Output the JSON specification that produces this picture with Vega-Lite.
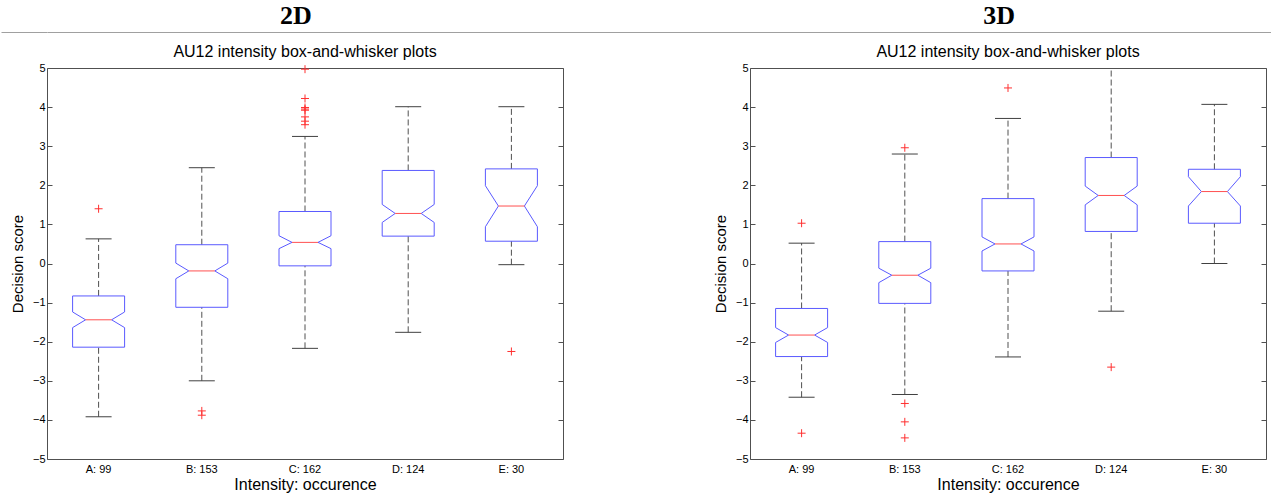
{
  "$schema": "https://vega.github.io/schema/vega-lite/v6.json",
  "padding": 0,
  "spacing": 10,
  "config": {
    "font": "Liberation Sans",
    "view": {"stroke": "#505050", "strokeWidth": 1},
    "axis": {"labelFont": "Liberation Sans", "titleFont": "Liberation Sans", "labelColor": "#000", "titleColor": "#000", "titleFontWeight": "normal", "tickColor": "#505050", "grid": false, "domain": false, "labelFontSize": 11}
  },
  "datasets": {
    "b2": [
      {"cat": "A: 99", "lo": -3.92, "q1": -2.14, "nlo": -1.64, "med": -1.44, "nhi": -1.24, "q3": -0.83, "hi": 0.63},
      {"cat": "B: 153", "lo": -3.0, "q1": -1.12, "nlo": -0.39, "med": -0.19, "nhi": 0.01, "q3": 0.48, "hi": 2.45},
      {"cat": "C: 162", "lo": -2.17, "q1": -0.06, "nlo": 0.38, "med": 0.54, "nhi": 0.71, "q3": 1.33, "hi": 3.25},
      {"cat": "D: 124", "lo": -1.76, "q1": 0.7, "nlo": 1.05, "med": 1.28, "nhi": 1.51, "q3": 2.38, "hi": 4.01},
      {"cat": "E: 30", "lo": -0.03, "q1": 0.57, "nlo": 0.94, "med": 1.47, "nhi": 1.99, "q3": 2.42, "hi": 4.01}
    ],
    "o2": [
      {"cat": "A: 99", "v": 1.4},
      {"cat": "B: 153", "v": -3.77},
      {"cat": "B: 153", "v": -3.88},
      {"cat": "C: 162", "v": 4.97},
      {"cat": "C: 162", "v": 4.22},
      {"cat": "C: 162", "v": 3.99},
      {"cat": "C: 162", "v": 3.95},
      {"cat": "C: 162", "v": 3.92},
      {"cat": "C: 162", "v": 3.75},
      {"cat": "C: 162", "v": 3.64},
      {"cat": "C: 162", "v": 3.55},
      {"cat": "E: 30", "v": -2.25}
    ],
    "b3": [
      {"cat": "A: 99", "lo": -3.42, "q1": -2.38, "nlo": -2.02, "med": -1.83, "nhi": -1.64, "q3": -1.15, "hi": 0.52},
      {"cat": "B: 153", "lo": -3.35, "q1": -1.02, "nlo": -0.49, "med": -0.3, "nhi": -0.12, "q3": 0.56, "hi": 2.8},
      {"cat": "C: 162", "lo": -2.39, "q1": -0.19, "nlo": 0.32, "med": 0.5, "nhi": 0.68, "q3": 1.66, "hi": 3.71},
      {"cat": "D: 124", "lo": -1.22, "q1": 0.82, "nlo": 1.5, "med": 1.74, "nhi": 1.98, "q3": 2.71, "hi": 5.2},
      {"cat": "E: 30", "lo": 0.0, "q1": 1.03, "nlo": 1.47, "med": 1.84, "nhi": 2.22, "q3": 2.41, "hi": 4.07}
    ],
    "o3": [
      {"cat": "A: 99", "v": 1.03},
      {"cat": "A: 99", "v": -4.34},
      {"cat": "B: 153", "v": 2.96},
      {"cat": "B: 153", "v": -3.58},
      {"cat": "B: 153", "v": -4.05},
      {"cat": "B: 153", "v": -4.46},
      {"cat": "C: 162", "v": 4.49},
      {"cat": "D: 124", "v": -2.65}
    ]
  },
  "vconcat": [
    {
      "width": 1225, "height": 32, "view": {"stroke": null},
      "data": {"values": [{"t": "2D"}, {"t": "3D"}]},
      "mark": {"type": "text", "font": "Liberation Serif", "fontSize": 26, "fontWeight": "bold", "baseline": "alphabetic", "color": "#000"},
      "encoding": {
        "x": {"field": "t", "type": "nominal", "scale": {"type": "point", "padding": 0.371, "align": 0.477}, "axis": {"title": null, "labels": false, "ticks": false, "domain": true, "domainColor": "#a0a0a0", "domainWidth": 1}},
        "y": {"datum": 0.25, "type": "quantitative", "scale": {"domain": [0, 1]}, "axis": {"title": null, "labels": false, "domain": false, "values": [0], "tickSize": 46, "tickColor": "#a0a0a0", "tickWidth": 1}},
        "text": {"field": "t"}
      }
    },
    {
      "spacing": 148,
      "hconcat": [
        {
          "width": 516, "height": 391,
          "title": {"text": "AU12 intensity box-and-whisker plots", "frame": "group", "anchor": "middle", "fontSize": 16, "fontWeight": "normal", "font": "Liberation Sans", "color": "#000", "offset": 2},
          "data": {"name": "b2"},
          "resolve": {"axis": {"x": "independent", "y": "independent"}},
          "layer": [
            {"mark": {"type": "rule", "color": "#505050", "strokeDash": [6, 3]},
             "encoding": {
               "x": {"field": "cat", "type": "nominal", "sort": null, "scale": {"paddingInner": 0, "paddingOuter": 0}, "axis": {"title": "Intensity: occurence", "titleFontSize": 16, "labelAngle": 0, "ticks": false, "labelPadding": 4, "titlePadding": 2}},
               "y": {"field": "lo", "type": "quantitative", "scale": {"domain": [-5, 5], "nice": false, "zero": false}, "axis": {"title": "Decision score", "titleFontSize": 15, "values": [-5, -4, -3, -2, -1, 0, 1, 2, 3, 4, 5], "tickSize": -5, "labelPadding": 7, "titlePadding": 7}},
               "y2": {"field": "q1"}}},
            {"mark": {"type": "rule", "color": "#505050", "strokeDash": [6, 3], "clip": true},
             "encoding": {
               "x": {"field": "cat", "type": "nominal", "sort": null, "axis": null},
               "y": {"field": "q3", "type": "quantitative", "axis": {"orient": "right", "title": null, "labels": false, "values": [-5, -4, -3, -2, -1, 0, 1, 2, 3, 4, 5], "tickSize": -5}},
               "y2": {"field": "hi"}}},
            {"mark": {"type": "rule", "color": "#404040", "xOffset": -13, "x2Offset": 13},
             "encoding": {"x": {"field": "cat", "type": "nominal", "sort": null, "axis": null}, "x2": {"field": "cat"}, "y": {"field": "lo", "type": "quantitative", "axis": null}}},
            {"mark": {"type": "rule", "color": "#404040", "xOffset": -13, "x2Offset": 13, "clip": true},
             "encoding": {"x": {"field": "cat", "type": "nominal", "sort": null, "axis": null}, "x2": {"field": "cat"}, "y": {"field": "hi", "type": "quantitative", "axis": null}}},
            {"mark": {"type": "rule", "color": "#5a5aff", "xOffset": -26},
             "encoding": {"x": {"field": "cat", "type": "nominal", "sort": null, "axis": null}, "y": {"field": "q1", "type": "quantitative", "axis": null}, "y2": {"field": "nlo"}}},
            {"mark": {"type": "rule", "color": "#5a5aff", "xOffset": -26},
             "encoding": {"x": {"field": "cat", "type": "nominal", "sort": null, "axis": null}, "y": {"field": "nhi", "type": "quantitative", "axis": null}, "y2": {"field": "q3"}}},
            {"mark": {"type": "rule", "color": "#5a5aff", "xOffset": 26},
             "encoding": {"x": {"field": "cat", "type": "nominal", "sort": null, "axis": null}, "y": {"field": "q1", "type": "quantitative", "axis": null}, "y2": {"field": "nlo"}}},
            {"mark": {"type": "rule", "color": "#5a5aff", "xOffset": 26},
             "encoding": {"x": {"field": "cat", "type": "nominal", "sort": null, "axis": null}, "y": {"field": "nhi", "type": "quantitative", "axis": null}, "y2": {"field": "q3"}}},
            {"mark": {"type": "rule", "color": "#5a5aff", "xOffset": -26, "x2Offset": -13},
             "encoding": {"x": {"field": "cat", "type": "nominal", "sort": null, "axis": null}, "x2": {"field": "cat"}, "y": {"field": "nlo", "type": "quantitative", "axis": null}, "y2": {"field": "med"}}},
            {"mark": {"type": "rule", "color": "#5a5aff", "xOffset": -26, "x2Offset": -13},
             "encoding": {"x": {"field": "cat", "type": "nominal", "sort": null, "axis": null}, "x2": {"field": "cat"}, "y": {"field": "nhi", "type": "quantitative", "axis": null}, "y2": {"field": "med"}}},
            {"mark": {"type": "rule", "color": "#5a5aff", "xOffset": 26, "x2Offset": 13},
             "encoding": {"x": {"field": "cat", "type": "nominal", "sort": null, "axis": null}, "x2": {"field": "cat"}, "y": {"field": "nlo", "type": "quantitative", "axis": null}, "y2": {"field": "med"}}},
            {"mark": {"type": "rule", "color": "#5a5aff", "xOffset": 26, "x2Offset": 13},
             "encoding": {"x": {"field": "cat", "type": "nominal", "sort": null, "axis": null}, "x2": {"field": "cat"}, "y": {"field": "nhi", "type": "quantitative", "axis": null}, "y2": {"field": "med"}}},
            {"mark": {"type": "rule", "color": "#5a5aff", "xOffset": -26, "x2Offset": 26},
             "encoding": {"x": {"field": "cat", "type": "nominal", "sort": null, "axis": null}, "x2": {"field": "cat"}, "y": {"field": "q3", "type": "quantitative", "axis": null}}},
            {"mark": {"type": "rule", "color": "#5a5aff", "xOffset": -26, "x2Offset": 26},
             "encoding": {"x": {"field": "cat", "type": "nominal", "sort": null, "axis": null}, "x2": {"field": "cat"}, "y": {"field": "q1", "type": "quantitative", "axis": null}}},
            {"mark": {"type": "rule", "color": "#ff5050", "xOffset": -13, "x2Offset": 13},
             "encoding": {"x": {"field": "cat", "type": "nominal", "sort": null, "axis": null}, "x2": {"field": "cat"}, "y": {"field": "med", "type": "quantitative", "axis": null}}},
            {"data": {"name": "o2"},
             "mark": {"type": "point", "shape": "M-1,0L1,0M0,-1L0,1", "size": 64, "filled": false, "color": "#ff3030", "strokeWidth": 1, "opacity": 1},
             "encoding": {"x": {"field": "cat", "type": "nominal", "sort": null, "axis": null}, "y": {"field": "v", "type": "quantitative", "axis": null}}}
          ]
        },
        {
          "width": 516, "height": 391,
          "title": {"text": "AU12 intensity box-and-whisker plots", "frame": "group", "anchor": "middle", "fontSize": 16, "fontWeight": "normal", "font": "Liberation Sans", "color": "#000", "offset": 2},
          "data": {"name": "b3"},
          "resolve": {"axis": {"x": "independent", "y": "independent"}},
          "layer": [
            {"mark": {"type": "rule", "color": "#505050", "strokeDash": [6, 3]},
             "encoding": {
               "x": {"field": "cat", "type": "nominal", "sort": null, "scale": {"paddingInner": 0, "paddingOuter": 0}, "axis": {"title": "Intensity: occurence", "titleFontSize": 16, "labelAngle": 0, "ticks": false, "labelPadding": 4, "titlePadding": 2}},
               "y": {"field": "lo", "type": "quantitative", "scale": {"domain": [-5, 5], "nice": false, "zero": false}, "axis": {"title": "Decision score", "titleFontSize": 15, "values": [-5, -4, -3, -2, -1, 0, 1, 2, 3, 4, 5], "tickSize": -5, "labelPadding": 7, "titlePadding": 7}},
               "y2": {"field": "q1"}}},
            {"mark": {"type": "rule", "color": "#505050", "strokeDash": [6, 3], "clip": true},
             "encoding": {
               "x": {"field": "cat", "type": "nominal", "sort": null, "axis": null},
               "y": {"field": "q3", "type": "quantitative", "axis": {"orient": "right", "title": null, "labels": false, "values": [-5, -4, -3, -2, -1, 0, 1, 2, 3, 4, 5], "tickSize": -5}},
               "y2": {"field": "hi"}}},
            {"mark": {"type": "rule", "color": "#404040", "xOffset": -13, "x2Offset": 13},
             "encoding": {"x": {"field": "cat", "type": "nominal", "sort": null, "axis": null}, "x2": {"field": "cat"}, "y": {"field": "lo", "type": "quantitative", "axis": null}}},
            {"mark": {"type": "rule", "color": "#404040", "xOffset": -13, "x2Offset": 13, "clip": true},
             "encoding": {"x": {"field": "cat", "type": "nominal", "sort": null, "axis": null}, "x2": {"field": "cat"}, "y": {"field": "hi", "type": "quantitative", "axis": null}}},
            {"mark": {"type": "rule", "color": "#5a5aff", "xOffset": -26},
             "encoding": {"x": {"field": "cat", "type": "nominal", "sort": null, "axis": null}, "y": {"field": "q1", "type": "quantitative", "axis": null}, "y2": {"field": "nlo"}}},
            {"mark": {"type": "rule", "color": "#5a5aff", "xOffset": -26},
             "encoding": {"x": {"field": "cat", "type": "nominal", "sort": null, "axis": null}, "y": {"field": "nhi", "type": "quantitative", "axis": null}, "y2": {"field": "q3"}}},
            {"mark": {"type": "rule", "color": "#5a5aff", "xOffset": 26},
             "encoding": {"x": {"field": "cat", "type": "nominal", "sort": null, "axis": null}, "y": {"field": "q1", "type": "quantitative", "axis": null}, "y2": {"field": "nlo"}}},
            {"mark": {"type": "rule", "color": "#5a5aff", "xOffset": 26},
             "encoding": {"x": {"field": "cat", "type": "nominal", "sort": null, "axis": null}, "y": {"field": "nhi", "type": "quantitative", "axis": null}, "y2": {"field": "q3"}}},
            {"mark": {"type": "rule", "color": "#5a5aff", "xOffset": -26, "x2Offset": -13},
             "encoding": {"x": {"field": "cat", "type": "nominal", "sort": null, "axis": null}, "x2": {"field": "cat"}, "y": {"field": "nlo", "type": "quantitative", "axis": null}, "y2": {"field": "med"}}},
            {"mark": {"type": "rule", "color": "#5a5aff", "xOffset": -26, "x2Offset": -13},
             "encoding": {"x": {"field": "cat", "type": "nominal", "sort": null, "axis": null}, "x2": {"field": "cat"}, "y": {"field": "nhi", "type": "quantitative", "axis": null}, "y2": {"field": "med"}}},
            {"mark": {"type": "rule", "color": "#5a5aff", "xOffset": 26, "x2Offset": 13},
             "encoding": {"x": {"field": "cat", "type": "nominal", "sort": null, "axis": null}, "x2": {"field": "cat"}, "y": {"field": "nlo", "type": "quantitative", "axis": null}, "y2": {"field": "med"}}},
            {"mark": {"type": "rule", "color": "#5a5aff", "xOffset": 26, "x2Offset": 13},
             "encoding": {"x": {"field": "cat", "type": "nominal", "sort": null, "axis": null}, "x2": {"field": "cat"}, "y": {"field": "nhi", "type": "quantitative", "axis": null}, "y2": {"field": "med"}}},
            {"mark": {"type": "rule", "color": "#5a5aff", "xOffset": -26, "x2Offset": 26},
             "encoding": {"x": {"field": "cat", "type": "nominal", "sort": null, "axis": null}, "x2": {"field": "cat"}, "y": {"field": "q3", "type": "quantitative", "axis": null}}},
            {"mark": {"type": "rule", "color": "#5a5aff", "xOffset": -26, "x2Offset": 26},
             "encoding": {"x": {"field": "cat", "type": "nominal", "sort": null, "axis": null}, "x2": {"field": "cat"}, "y": {"field": "q1", "type": "quantitative", "axis": null}}},
            {"mark": {"type": "rule", "color": "#ff5050", "xOffset": -13, "x2Offset": 13},
             "encoding": {"x": {"field": "cat", "type": "nominal", "sort": null, "axis": null}, "x2": {"field": "cat"}, "y": {"field": "med", "type": "quantitative", "axis": null}}},
            {"data": {"name": "o3"},
             "mark": {"type": "point", "shape": "M-1,0L1,0M0,-1L0,1", "size": 64, "filled": false, "color": "#ff3030", "strokeWidth": 1, "opacity": 1},
             "encoding": {"x": {"field": "cat", "type": "nominal", "sort": null, "axis": null}, "y": {"field": "v", "type": "quantitative", "axis": null}}}
          ]
        }
      ]
    }
  ]
}
